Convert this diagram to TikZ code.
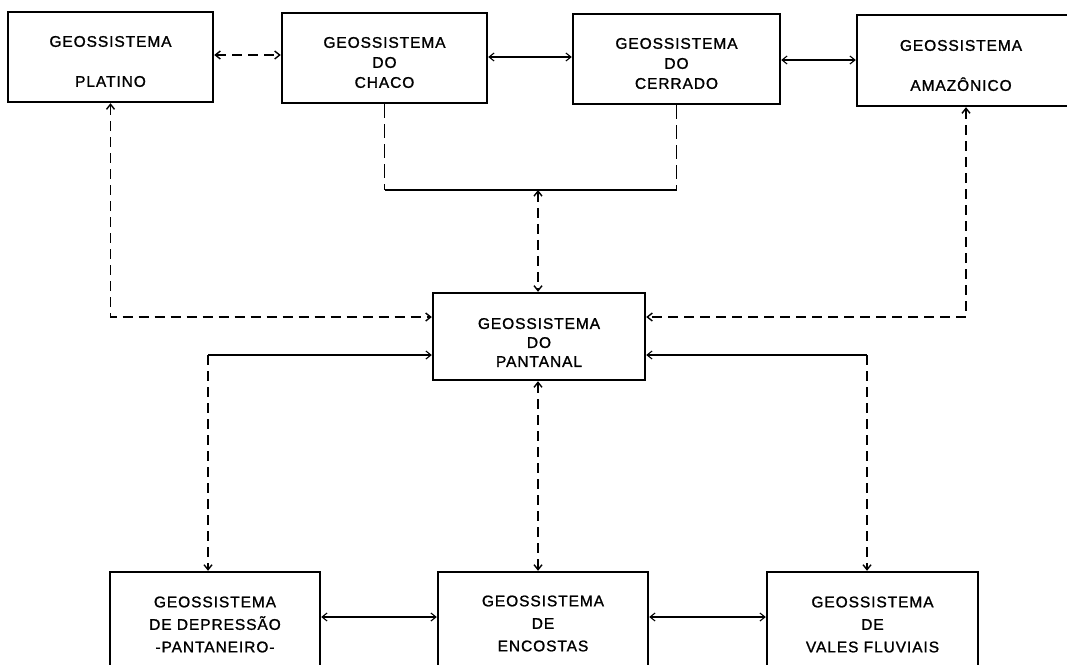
\documentclass[tikz,border=0pt]{standalone}
\usepackage{fontspec}
\setmainfont{Liberation Sans}[LetterSpace=6,FakeBold=1.2]
\usetikzlibrary{arrows.meta}
\tikzset{
  geobox/.style={draw=black, line width=2.4pt, rectangle, inner sep=0pt},
  geotext/.style={align=center, inner sep=0pt, font=\fontsize{15.5}{20}\selectfont},
  geotextb/.style={align=center, inner sep=0pt, font=\fontsize{15.5}{22.5}\selectfont},
  solidc/.style={draw=black, line width=1.1pt},
  dashedc/.style={draw=black, line width=1.4pt, dash pattern=on 10pt off 6pt},
  >={Straight Barb[length=5pt,width=8pt]}
}
\begin{document}
\begin{tikzpicture}[x=1pt,y=1pt]
\useasboundingbox[fill=white] (0,0) rectangle (1067,-664);

% boxes
\node[geobox, minimum width=205pt, minimum height=90pt] (platino) at (110.5,-57) {};
\node[geobox, minimum width=205pt, minimum height=90pt] (chaco) at (384.5,-58) {};
\node[geobox, minimum width=207pt, minimum height=90pt] (cerrado) at (676.5,-59) {};
\node[geobox, minimum width=211pt, minimum height=91pt] (amazonico) at (962.5,-60.5) {};
\node[geobox, minimum width=212pt, minimum height=87pt] (pantanal) at (539,-336.5) {};
\node[geobox, minimum width=210pt, minimum height=96pt] (depressao) at (215,-620) {};
\node[geobox, minimum width=210pt, minimum height=96pt] (encostas) at (543,-620) {};
\node[geobox, minimum width=211pt, minimum height=96pt] (vales) at (872.5,-620) {};

% texts
\node[geotext] (platinot) at (110.5,-61.5) {GEOSSISTEMA\\[20pt]PLATINO};
\node[geotext] (chacot) at (384.5,-62.5) {GEOSSISTEMA\\DO\\CHACO};
\node[geotext] (cerradot) at (676.5,-63.5) {GEOSSISTEMA\\DO\\CERRADO};
\node[geotext] (amazonicot) at (961,-65.5) {GEOSSISTEMA\\[20pt]AMAZÔNICO};
\node[geotext, font=\fontsize{15.5}{19}\selectfont] (pantanalt) at (539,-342.5) {GEOSSISTEMA\\DO\\PANTANAL};
\node[geotextb] (depressaot) at (215,-624.5) {GEOSSISTEMA\\DE DEPRESSÃO\\-PANTANEIRO-};
\node[geotextb] (encostast) at (543,-623.5) {GEOSSISTEMA\\DE\\ENCOSTAS};
\node[geotextb] (valest) at (872.5,-624.5) {GEOSSISTEMA\\DE\\VALES FLUVIAIS};

% helper coordinates
\coordinate (yPC) at (0,-55);
\coordinate (yCC) at (0,-57);
\coordinate (yCA) at (0,-60);
\coordinate (yJ) at (0,-190);
\coordinate (jm) at (538,-190);
\coordinate (cAm) at (966,-317);
\coordinate (yP1) at (0,-317);
\coordinate (cL) at (208,-355);
\coordinate (cR) at (867,-355);
\coordinate (cM) at (538,-500);
\coordinate (yB) at (0,-617);

% top row
\draw[dashedc,<->] (platino.east |- yPC) -- (chaco.west |- yPC);
\draw[solidc,<->] (chaco.east |- yCC) -- (cerrado.west |- yCC);
\draw[solidc,<->] (cerrado.east |- yCA) -- (amazonico.west |- yCA);

% chaco / cerrado join
\draw[dashedc, dash pattern=on 14pt off 6pt] (chaco.south) -- (chaco.south |- yJ) coordinate (j1);
\draw[dashedc, dash pattern=on 14pt off 6pt] (cerrado.south) -- (cerrado.south |- yJ) coordinate (j2);
\draw[solidc] (j1) -- (j2);
\draw[dashedc,<->] (jm) -- (pantanal.north -| jm);

% platino and amazonico to pantanal
\draw[dashedc,<->] (platino.south) -- (platino.south |- yP1) -- (pantanal.west |- yP1);
\draw[dashedc,<->] (amazonico.south -| cAm) -- (cAm) -- (pantanal.east |- cAm);

% pantanal to lower row
\draw[solidc,<-] (pantanal.west |- cL) -- (cL);
\draw[dashedc,->] (cL) -- (depressao.north -| cL);
\draw[solidc,<-] (pantanal.east |- cR) -- (cR);
\draw[dashedc,->] (cR) -- (vales.north -| cR);
\draw[dashedc,<->] (pantanal.south -| cM) -- (encostas.north -| cM);

% lower row
\draw[solidc,<->] (depressao.east |- yB) -- (encostas.west |- yB);
\draw[solidc,<->] (encostas.east |- yB) -- (vales.west |- yB);
\end{tikzpicture}
\end{document}
